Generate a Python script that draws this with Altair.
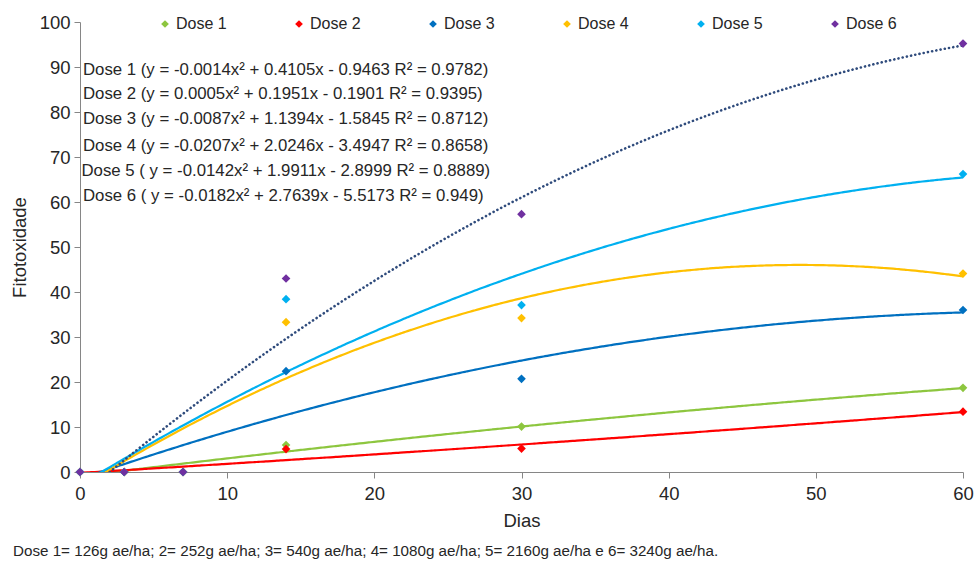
import altair as alt
import pandas as pd

# Sampling days and observed phytotoxicity (%) for each herbicide dose
days = [0, 3, 7, 14, 30, 60]
doses = ["Dose 1", "Dose 2", "Dose 3", "Dose 4", "Dose 5", "Dose 6"]
dose1 = [0, 0, 0, 6.0, 10.1, 18.7]
dose2 = [0, 0, 0, 5.1, 5.2, 13.4]
dose3 = [0, 0, 0, 22.4, 20.7, 36.0]
dose4 = [0, 0, 0, 33.3, 34.2, 44.1]
dose5 = [0, 0, 0, 38.4, 37.1, 66.2]
dose6 = [0, 0, 0, 43.0, 57.3, 95.2]

# Quadratic trend coefficients (y = a*x^2 + b*x + c) and R^2
coef_a = [-0.0014, 0.0005, -0.0087, -0.0207, -0.0142, -0.0182]
coef_b = [0.4105, 0.1951, 1.1394, 2.0246, 1.9911, 2.7639]
coef_c = [-0.9463, -0.1901, -1.5845, -3.4947, -2.8999, -5.5173]
equations = [
    "Dose 1 (y = -0.0014x²  + 0.4105x  - 0.9463 R² = 0.9782)",
    "Dose 2 (y = 0.0005x²  + 0.1951x  - 0.1901 R² = 0.9395)",
    "Dose 3 (y = -0.0087x²  + 1.1394x  - 1.5845 R² = 0.8712)",
    "Dose 4 (y = -0.0207x²  + 2.0246x  - 3.4947 R² = 0.8658)",
    "Dose 5 ( y = -0.0142x²  + 1.9911x  - 2.8999  R² = 0.8889)",
    "Dose 6 ( y = -0.0182x²  + 2.7639x  - 5.5173 R² = 0.949)",
]
footnote = ("Dose 1= 126g ae/ha; 2= 252g ae/ha; 3= 540g ae/ha; 4= 1080g ae/ha; "
            "5= 2160g ae/ha e 6= 3240g ae/ha.")

colors = ["#8DC63F", "#FF0000", "#0070C0", "#FFC000", "#00B0F0", "#7030A0"]
trend6_color = "#2F4B7C"
FONT = "Liberation Sans"
TXT = "#262626"

series = [dose1, dose2, dose3, dose4, dose5, dose6]
points = pd.DataFrame(
    [{"dose": d, "dias": x, "fito": v} for d, vals in zip(doses, series) for x, v in zip(days, vals)]
)
points["order"] = points["dose"].map({d: i for i, d in enumerate(doses)})

x_scale = alt.Scale(domain=[0, 60], nice=False)
y_scale = alt.Scale(domain=[0, 100], nice=False)
color_scale = alt.Scale(domain=doses, range=colors)

x_enc = alt.X("dias:Q", scale=x_scale,
              axis=alt.Axis(title="Dias", values=[0, 10, 20, 30, 40, 50, 60]))
y_enc = alt.Y("fito:Q", scale=y_scale,
              axis=alt.Axis(title="Fitotoxidade", values=list(range(0, 101, 10))))


def trend(i, color, dash=None):
    a, b, c = coef_a[i], coef_b[i], coef_c[i]
    kw = dict(color=color, strokeWidth=2.2, clip=True, interpolate="monotone")
    if dash:
        kw.update(strokeDash=dash, strokeCap="round", strokeWidth=2.6)
    return (
        alt.Chart(alt.sequence(0, 60.01, 0.25, as_="dias"))
        .transform_calculate(fito=f"{a}*datum.dias*datum.dias + {b}*datum.dias + {c}")
        .mark_line(**kw)
        .encode(x=x_enc, y=y_enc)
    )


trends = [trend(i, colors[i]) for i in range(5)] + [trend(5, trend6_color, dash=[0.1, 4.2])]

marks = (
    alt.Chart(points)
    .mark_point(shape="diamond", filled=True, size=75, opacity=1)
    .encode(
        x=x_enc,
        y=y_enc,
        color=alt.Color(
            "dose:N",
            scale=color_scale,
            legend=alt.Legend(
                title=None, orient="none", direction="horizontal", columns=6,
                legendX=77, legendY=-6, columnPadding=64, symbolSize=60,
                symbolType="diamond", labelFontSize=16, labelFont=FONT,
                labelColor=TXT, labelOffset=3, padding=0,
            ),
        ),
        order="order:Q",
    )
)

eq_df = pd.DataFrame({
    "eq": equations,
    "dias": [0.2, 0.2, 0.2, 0.2, 0.1, 0.2],
    "fito": [89.3, 83.9, 78.4, 72.4, 66.8, 61.3],
})
eq_text = (
    alt.Chart(eq_df)
    .mark_text(align="left", baseline="middle", fontSize=16.8, font=FONT, color=TXT)
    .encode(x=alt.X("dias:Q", scale=x_scale), y=alt.Y("fito:Q", scale=y_scale), text="eq:N")
)

note = (
    alt.Chart(pd.DataFrame({"t": [footnote]}))
    .mark_text(align="left", baseline="middle", fontSize=15.2, font=FONT, color=TXT)
    .encode(x=alt.value(-67), y=alt.value(529), text="t:N")
)

chart = (
    alt.layer(*trends, marks, eq_text, note)
    .properties(
        width=883, height=450,
        autosize=alt.AutoSizeParams(type="none"),
        padding={"left": 80, "top": 22, "right": 17, "bottom": 90},
    )
    .configure_view(stroke=None)
    .configure_axis(
        grid=False, domainColor="#868686", tickColor="#868686", tickSize=6,
        labelFont=FONT, labelFontSize=18.5, labelColor=TXT, labelFlush=False,
        titleFont=FONT, titleFontSize=18.5, titleColor=TXT, titleFontWeight="normal",
    )
    .configure_axisX(labelPadding=6, titlePadding=9)
    .configure_axisY(labelPadding=4, titlePadding=10)
)

chart.save("out.html", embed_options={"renderer": "svg", "actions": False})
